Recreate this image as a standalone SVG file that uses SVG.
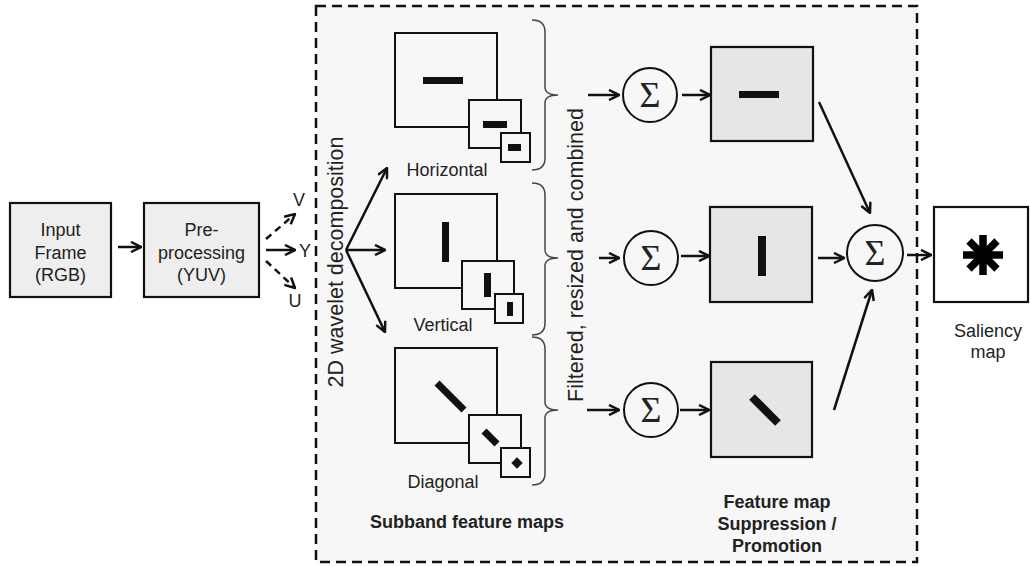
<svg xmlns="http://www.w3.org/2000/svg" width="1030" height="567" viewBox="0 0 1030 567">
<style>
.t{font-family:"Liberation Sans",Arial,sans-serif;font-size:18px;fill:#222;text-anchor:middle}
.b{font-weight:bold}
.r{font-family:"Liberation Sans",Arial,sans-serif;font-size:21.5px;fill:#222;text-anchor:middle}
.sig{font-family:"Liberation Serif","Times New Roman",serif;font-size:36px;fill:#222;text-anchor:middle}
.box{fill:#eeeeee;stroke:#111;stroke-width:2.2}
.gbox{fill:#e6e6e6;stroke:#111;stroke-width:2.2}
.wbox{fill:#fff;stroke:#111;stroke-width:2.2}
.sq{fill:none;stroke:#111;stroke-width:2}
.sqf{fill:#f7f7f7;stroke:#111;stroke-width:2}
.bar{fill:#111}
.circ{fill:none;stroke:#111;stroke-width:2}
.c{fill:none;stroke:#111;stroke-width:2.5;marker-end:url(#ah)}
.d{stroke-dasharray:7 5}
.br{fill:none;stroke:#444;stroke-width:1.5}
</style>
<defs>
<marker id="ah" viewBox="0 0 12 12" refX="11" refY="6" markerWidth="12" markerHeight="12" markerUnits="userSpaceOnUse" orient="auto">
<path d="M1,1 L11,6 L1,11" fill="none" stroke="#111" stroke-width="2.5" stroke-dasharray="none"/>
</marker>
</defs>
<rect x="0" y="0" width="1030" height="567" fill="#fff"/>
<g id="container">
<rect x="316" y="6" width="601" height="556" fill="#f7f7f7" stroke="#111" stroke-width="2.5" stroke-dasharray="10 6"/>
</g>
<g id="input">
<rect class="box" x="10" y="203" width="101" height="94"/>
<text class="t" x="60.5" y="236">Input</text>
<text class="t" x="60.5" y="258.5">Frame</text>
<text class="t" x="60.5" y="281">(RGB)</text>
</g>
<g id="preproc">
<rect class="box" x="144" y="203" width="115" height="94"/>
<text class="t" x="201.5" y="236">Pre-</text>
<text class="t" x="201.5" y="258.5">processing</text>
<text class="t" x="201.5" y="281">(YUV)</text>
</g>
<g id="yuv-labels">
<text class="t" x="299" y="206">V</text>
<text class="t" x="305" y="257">Y</text>
<text class="t" x="295" y="307">U</text>
</g>
<g id="wavelet-label">
<text class="r" transform="translate(343,262) rotate(-90)">2D wavelet decomposition</text>
</g>
<g id="horizontal">
<rect class="sq" x="395" y="33" width="102" height="94"/>
<rect class="sqf" x="469" y="100" width="52" height="48"/>
<rect class="sqf" x="501" y="133" width="29" height="29"/>
<rect class="bar" x="423" y="77" width="40" height="7"/>
<rect class="bar" x="483" y="121" width="24" height="7"/>
<rect class="bar" x="508" y="144" width="13" height="7"/>
<text class="t" x="447" y="176">Horizontal</text>
</g>
<g id="vertical">
<rect class="sq" x="395" y="194" width="102" height="94"/>
<rect class="sqf" x="462" y="261" width="52" height="48"/>
<rect class="sqf" x="495" y="294" width="28" height="29"/>
<rect class="bar" x="442" y="222" width="7" height="40"/>
<rect class="bar" x="484" y="273" width="7" height="24"/>
<rect class="bar" x="507" y="302" width="6" height="14"/>
<text class="t" x="443" y="331">Vertical</text>
</g>
<g id="diagonal">
<rect class="sq" x="395" y="348" width="102" height="95"/>
<rect class="sqf" x="469" y="415" width="52" height="48"/>
<rect class="sqf" x="501" y="448" width="29" height="29"/>
<line x1="437" y1="383" x2="464" y2="410" stroke="#111" stroke-width="7"/>
<line x1="484" y1="431" x2="497" y2="444" stroke="#111" stroke-width="7"/>
<rect class="bar" x="513" y="459" width="8" height="8" transform="rotate(45 517 463)"/>
<text class="t" x="443" y="488">Diagonal</text>
</g>
<g id="braces">
<path class="br" d="M532,20 Q545,20 545,32 L545,87 Q545,95 558,95 Q545,95 545,103 L545,158 Q545,170 532,170"/>
<path class="br" d="M532,183 Q545,183 545,195 L545,250 Q545,258 558,258 Q545,258 545,266 L545,323 Q545,335 532,335"/>
<path class="br" d="M532,337 Q545,337 545,349 L545,402 Q545,410 558,410 Q545,410 545,418 L545,473 Q545,485 532,485"/>
</g>
<g id="subband-label">
<text class="t b" x="467" y="528">Subband feature maps</text>
</g>
<g id="filter-label">
<text class="r" transform="translate(583,255) rotate(-90)">Filtered, resized and combined</text>
</g>
<g id="sum-top">
<circle class="circ" cx="650" cy="95" r="27"/>
<text class="sig" x="650" y="107">Σ</text>
</g>
<g id="sum-mid">
<circle class="circ" cx="651" cy="258" r="27"/>
<text class="sig" x="651" y="270">Σ</text>
</g>
<g id="sum-bot">
<circle class="circ" cx="651" cy="410" r="27"/>
<text class="sig" x="651" y="422">Σ</text>
</g>
<g id="fmap-top">
<rect class="gbox" x="711" y="47" width="102" height="94"/>
<rect class="bar" x="739" y="91" width="40" height="7"/>
</g>
<g id="fmap-mid">
<rect class="gbox" x="710" y="207" width="102" height="95"/>
<rect class="bar" x="758" y="236" width="8" height="40"/>
</g>
<g id="fmap-bot">
<rect class="gbox" x="711" y="362" width="101" height="95"/>
<line x1="752" y1="397" x2="778" y2="423" stroke="#111" stroke-width="8"/>
</g>
<g id="fmap-label">
<text class="t b" x="777" y="508">Feature map</text>
<text class="t b" x="777" y="530">Suppression /</text>
<text class="t b" x="777" y="552">Promotion</text>
</g>
<g id="sum-final">
<circle class="circ" cx="875" cy="253" r="28"/>
<text class="sig" x="875" y="265">Σ</text>
</g>
<g id="saliency">
<rect class="wbox" x="934" y="207" width="94" height="95"/>
<g stroke="#000" stroke-width="7.5">
<line x1="983" y1="235" x2="983" y2="275"/>
<line x1="963" y1="255" x2="1003" y2="255"/>
<line x1="969" y1="241" x2="997" y2="269"/>
<line x1="997" y1="241" x2="969" y2="269"/>
</g>
<text class="t" x="988" y="337">Saliency</text>
<text class="t" x="988" y="358">map</text>
</g>
<g id="connectors">
<line class="c" x1="118" y1="247" x2="141" y2="247"/>
<line class="c d" x1="266" y1="239" x2="295" y2="214"/>
<line class="c" x1="266" y1="250" x2="295" y2="250"/>
<line class="c d" x1="266" y1="261" x2="295" y2="288"/>
<line class="c" x1="346" y1="250" x2="387" y2="168"/>
<line class="c" x1="346" y1="250" x2="385" y2="250"/>
<line class="c" x1="346" y1="250" x2="385" y2="332"/>
<line class="c" x1="588" y1="95" x2="619" y2="95"/>
<line class="c" x1="599" y1="258" x2="619" y2="258"/>
<line class="c" x1="587" y1="410" x2="619" y2="410"/>
<line class="c" x1="682" y1="95" x2="710" y2="95"/>
<line class="c" x1="681" y1="256" x2="709" y2="256"/>
<line class="c" x1="680" y1="410" x2="709" y2="410"/>
<line class="c" x1="819" y1="102" x2="870" y2="213"/>
<line class="c" x1="818" y1="258" x2="844" y2="258"/>
<line class="c" x1="834" y1="410" x2="872" y2="290"/>
<line class="c" x1="907" y1="255" x2="931" y2="255"/>
</g>
</svg>
